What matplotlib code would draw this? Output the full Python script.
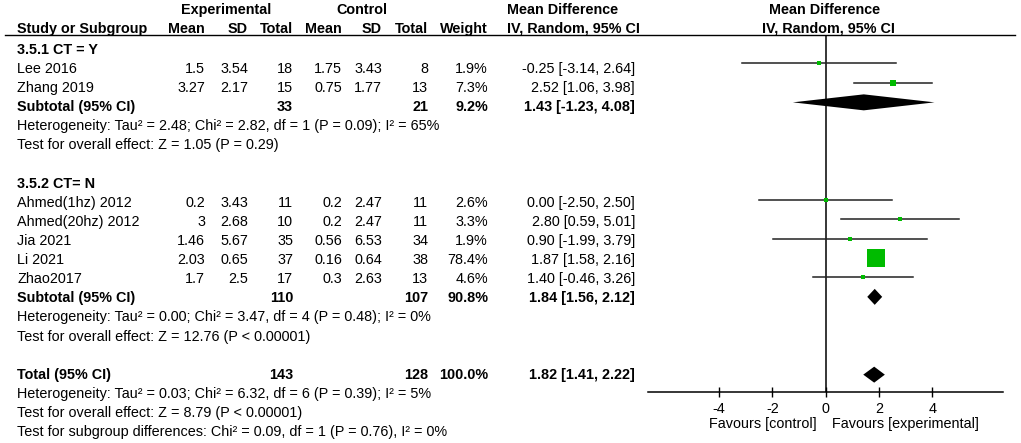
import matplotlib
matplotlib.use("Agg")
import numpy as np
import matplotlib.pyplot as plt

plt.rcParams['font.family'] = ['Liberation Sans', 'DejaVu Sans']
plt.rcParams['font.size'] = 10.4

# --- data ---
studies = ["Lee 2016", "Zhang 2019", "Ahmed(1hz) 2012", "Ahmed(20hz) 2012",
           "Jia 2021", "Li 2021", "Zhao2017"]
exp_mean = [1.5, 3.27, 0.2, 3, 1.46, 2.03, 1.7]
exp_sd = [3.54, 2.17, 3.43, 2.68, 5.67, 0.65, 2.5]
exp_n = [18, 15, 11, 10, 35, 37, 17]
ctl_mean = [1.75, 0.75, 0.2, 0.2, 0.56, 0.16, 0.3]
ctl_sd = [3.43, 1.77, 2.47, 2.47, 6.53, 0.64, 2.63]
ctl_n = [8, 13, 11, 11, 34, 38, 13]
weight = [1.9, 7.3, 2.6, 3.3, 1.9, 78.4, 4.6]
md = [-0.25, 2.52, 0.00, 2.80, 0.90, 1.87, 1.40]
ci_lo = [-3.14, 1.06, -2.50, 0.59, -1.99, 1.58, -0.46]
ci_hi = [2.64, 3.98, 2.50, 5.01, 3.79, 2.16, 3.26]

pooled_labels = ["Subtotal (95% CI)", "Subtotal (95% CI)", "Total (95% CI)"]
pooled_exp_n = [33, 110, 143]
pooled_ctl_n = [21, 107, 128]
pooled_weight = [9.2, 90.8, 100.0]
pooled_md = [1.43, 1.84, 1.82]
pooled_lo = [-1.23, 1.56, 1.41]
pooled_hi = [4.08, 2.12, 2.22]

group_labels = ["3.5.1 CT = Y", "3.5.2 CT= N"]
stats_lines = [
    "Heterogeneity: Tau² = 2.48; Chi² = 2.82, df = 1 (P = 0.09); I² = 65%",
    "Test for overall effect: Z = 1.05 (P = 0.29)",
    "Heterogeneity: Tau² = 0.00; Chi² = 3.47, df = 4 (P = 0.48); I² = 0%",
    "Test for overall effect: Z = 12.76 (P < 0.00001)",
    "Heterogeneity: Tau² = 0.03; Chi² = 6.32, df = 6 (P = 0.39); I² = 5%",
    "Test for overall effect: Z = 8.79 (P < 0.00001)",
    "Test for subgroup differences: Chi² = 0.09, df = 1 (P = 0.76), I² = 0%",
]
x_ticks = [-4, -2, 0, 2, 4]

# row layout (row index in the table)
group_rows = [0, 7]
study_rows = [1, 2, 8, 9, 10, 11, 12]
pooled_rows = [3, 13, 17]
stats_rows = [4, 5, 14, 15, 18, 19, 20]

# column right edges (px)
col_x = [205, 248, 293, 342, 382, 428, 488]
ci_x = 635
name_x = 17


def text_y(r):
    return 50 + 19.1 * r


fig = plt.figure(figsize=(10.21, 4.43), dpi=100)
bg = fig.add_axes([0, 0, 1, 1])
bg.set_xlim(0, 1021)
bg.set_ylim(443, 0)
bg.axis('off')

# headers
bg.text(226, 10, "Experimental", ha='center', va='center', fontweight='bold')
bg.text(362, 10, "Control", ha='center', va='center', fontweight='bold')
bg.text(507, 10, "Mean Difference", ha='left', va='center', fontweight='bold')
bg.text(825, 10, "Mean Difference", ha='center', va='center', fontweight='bold')
bg.text(name_x, 28.5, "Study or Subgroup", ha='left', va='center', fontweight='bold')
for x, h in zip(col_x, ["Mean", "SD", "Total", "Mean", "SD", "Total", "Weight"]):
    bg.text(x, 28.5, h, ha='right', va='center', fontweight='bold')
bg.text(507, 28.5, "IV, Random, 95% CI", ha='left', va='center', fontweight='bold')
bg.text(828, 28.5, "IV, Random, 95% CI", ha='center', va='center', fontweight='bold')
bg.plot([5, 1015], [35.3, 35.3], color='black', lw=1.0)

for lab, r in zip(group_labels, group_rows):
    bg.text(name_x, text_y(r), lab, ha='left', va='center', fontweight='bold')

for i, r in enumerate(study_rows):
    y = text_y(r)
    bg.text(name_x, y, studies[i], ha='left', va='center')
    vals = [str(exp_mean[i]), str(exp_sd[i]), str(exp_n[i]),
            str(ctl_mean[i]), str(ctl_sd[i]), str(ctl_n[i]), f"{weight[i]:.1f}%"]
    for x, v in zip(col_x, vals):
        bg.text(x, y, v, ha='right', va='center')
    bg.text(ci_x, y, f"{md[i]:.2f} [{ci_lo[i]:.2f}, {ci_hi[i]:.2f}]", ha='right', va='center')

for i, r in enumerate(pooled_rows):
    y = text_y(r)
    bg.text(name_x, y, pooled_labels[i], ha='left', va='center', fontweight='bold')
    bg.text(col_x[2], y, str(pooled_exp_n[i]), ha='right', va='center', fontweight='bold')
    bg.text(col_x[5], y, str(pooled_ctl_n[i]), ha='right', va='center', fontweight='bold')
    bg.text(col_x[6], y, f"{pooled_weight[i]:.1f}%", ha='right', va='center', fontweight='bold')
    bg.text(ci_x, y, f"{pooled_md[i]:.2f} [{pooled_lo[i]:.2f}, {pooled_hi[i]:.2f}]",
            ha='right', va='center', fontweight='bold')

for line, r in zip(stats_lines, stats_rows):
    bg.text(name_x, text_y(r), line, ha='left', va='center')

bg.text(817, 424, "Favours [control]", ha='right', va='center')
bg.text(832, 424, "Favours [experimental]", ha='left', va='center')

# --- forest panel ---
W, H = 1021.0, 443.0
x0, x1 = 648.3, 1003.0
y_top, y_bot = 35.6, 392.3
row0, step = 44.0, 19.45
fax = fig.add_axes([x0 / W, 1 - y_bot / H, (x1 - x0) / W, (y_bot - y_top) / H])
fax.set_xlim(-6.65, 6.65)
fax.set_ylim((y_bot - row0) / step, (y_top - row0) / step)
fax.patch.set_alpha(0)
for s in ['top', 'left', 'right']:
    fax.spines[s].set_visible(False)
fax.spines['bottom'].set_linewidth(1.1)
fax.set_yticks([])
fax.set_xticks(x_ticks)
fax.set_xticklabels([str(t) for t in x_ticks])
fax.tick_params(axis='x', direction='inout', length=7, width=1.0, pad=3.6, labelsize=10.4)

fax.axvline(0, color='black', lw=1.1, zorder=1)

for i, r in enumerate(study_rows):
    fax.plot([ci_lo[i], ci_hi[i]], [r, r], color='#222222', lw=1.1, zorder=2)
    side_px = max(3.4, 1.95 * np.sqrt(weight[i]))
    fax.scatter([md[i]], [r], s=(side_px * 0.72) ** 2, marker='s',
                color='#00bb00', linewidths=0, zorder=3)

half_h = 8.0 / step
for i, r in enumerate(pooled_rows):
    xs = [pooled_lo[i], pooled_md[i], pooled_hi[i], pooled_md[i]]
    ys = [r, r - half_h, r, r + half_h]
    fax.fill(xs, ys, color='black', lw=0, zorder=3)

fig.savefig("out.png", dpi=100)
